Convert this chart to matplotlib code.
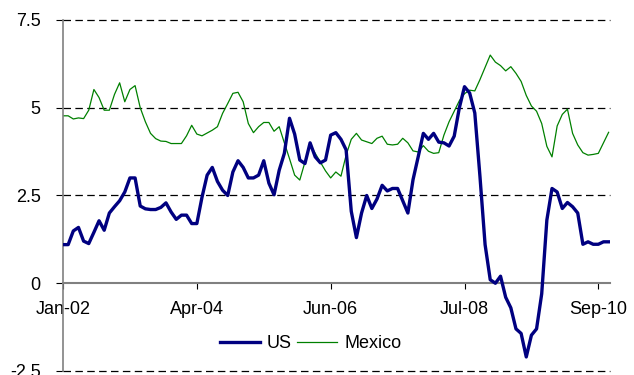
import numpy as np
import matplotlib
matplotlib.use("Agg")
import matplotlib.pyplot as plt

plt.rcParams['font.family'] = ['Liberation Sans', 'DejaVu Sans']
plt.rcParams['axes.unicode_minus'] = False

# monthly series, Jan-02 onwards
us = [1.10, 1.10, 1.49, 1.59, 1.20, 1.13, 1.45, 1.78, 1.51, 2.00,
      2.18, 2.35, 2.60, 3.00, 3.00, 2.20, 2.12, 2.10, 2.10, 2.16,
      2.29, 2.03, 1.82, 1.94, 1.94, 1.70, 1.70, 2.45, 3.08, 3.30,
      2.90, 2.65, 2.50, 3.17, 3.49, 3.30, 3.00, 3.00, 3.08, 3.49,
      2.85, 2.52, 3.22, 3.70, 4.70, 4.25, 3.51, 3.41, 4.00, 3.60,
      3.43, 3.51, 4.22, 4.29, 4.10, 3.80, 2.05, 1.30, 2.00, 2.50,
      2.13, 2.40, 2.79, 2.63, 2.70, 2.70, 2.35, 2.00, 2.95, 3.60,
      4.27, 4.10, 4.27, 4.02, 4.00, 3.91, 4.19, 5.00, 5.60, 5.42,
      4.85, 3.05, 1.10, 0.10, 0.00, 0.20, -0.40, -0.70, -1.30, -1.43,
      -2.10, -1.48, -1.30, -0.30, 1.80, 2.70, 2.60, 2.13, 2.30, 2.18,
      2.00, 1.11, 1.18, 1.11, 1.11, 1.18, 1.18]

mexico = [4.77, 4.77, 4.68, 4.71, 4.69, 4.93, 5.52, 5.29, 4.93, 4.93,
          5.38, 5.71, 5.17, 5.52, 5.63, 5.00, 4.60, 4.27, 4.12, 4.05,
          4.04, 3.98, 3.98, 3.98, 4.20, 4.50, 4.25, 4.20, 4.28, 4.36,
          4.46, 4.84, 5.12, 5.41, 5.44, 5.17, 4.55, 4.29, 4.46, 4.58,
          4.58, 4.33, 4.46, 4.00, 3.55, 3.08, 2.94, 3.45, 3.94, 3.70,
          3.45, 3.20, 3.00, 3.17, 3.05, 3.65, 4.10, 4.27, 4.08, 4.03,
          3.98, 4.13, 4.19, 3.96, 3.94, 3.96, 4.13, 4.00, 3.77, 3.74,
          3.92, 3.76, 3.70, 3.72, 4.22, 4.60, 4.90, 5.20, 5.40, 5.50,
          5.48, 5.80, 6.15, 6.50, 6.30, 6.20, 6.05, 6.17, 5.98, 5.75,
          5.35, 5.05, 4.90, 4.55, 3.90, 3.60, 4.48, 4.81, 4.96, 4.27,
          3.94, 3.72, 3.65, 3.67, 3.70, 4.00, 4.30]

tick_pos = [0, 26, 52, 78, 104]
tick_labels = ["Jan-02", "Apr-04", "Jun-06", "Jul-08", "Sep-10"]
y_ticks = [-2.5, 0, 2.5, 5, 7.5]
y_labels = ["-2.5", "0", "2.5", "5", "7.5"]

x = np.arange(len(us))

fig = plt.figure(figsize=(6.34, 3.75), dpi=100)
ax = fig.add_axes([0.0994, 0.0107, 0.8626, 0.936])

ax.plot(x, us, color="#000080", lw=2.4, label="US", zorder=3)
ax.plot(x, mexico, color="#008000", lw=0.9, label="Mexico", zorder=2)

ax.set_ylim(-2.5, 7.5)
ax.set_xlim(0, 106.25)

ax.set_yticks(y_ticks)
ax.set_yticklabels(y_labels)
ax.set_xticks(tick_pos)
ax.set_xticklabels(tick_labels)

# dashed gridlines (zero line is the x axis itself)
for v in [7.5, 5, 2.5, -2.5]:
    ax.axhline(v, color="black", lw=0.9, ls=(0, (6, 3.5)), zorder=1, clip_on=False)

ax.spines['top'].set_visible(False)
ax.spines['right'].set_visible(False)
ax.spines['bottom'].set_position(('data', 0))
ax.spines['bottom'].set_color("#808080")
ax.spines['bottom'].set_linewidth(1.5)
ax.spines['left'].set_color("#808080")
ax.spines['left'].set_linewidth(1.2)

ax.tick_params(axis='x', direction='out', length=4, width=0.8, color='black',
               pad=9, labelsize=13)
ax.tick_params(axis='y', direction='out', length=5, width=0.8, color='black',
               pad=11, labelsize=13)

ax.legend(loc='center', bbox_to_anchor=(0.453, 0.077), ncol=2, frameon=False,
          fontsize=13, handlelength=2.2, columnspacing=0.3, handletextpad=0.4)

fig.savefig("out.png", dpi=100)
